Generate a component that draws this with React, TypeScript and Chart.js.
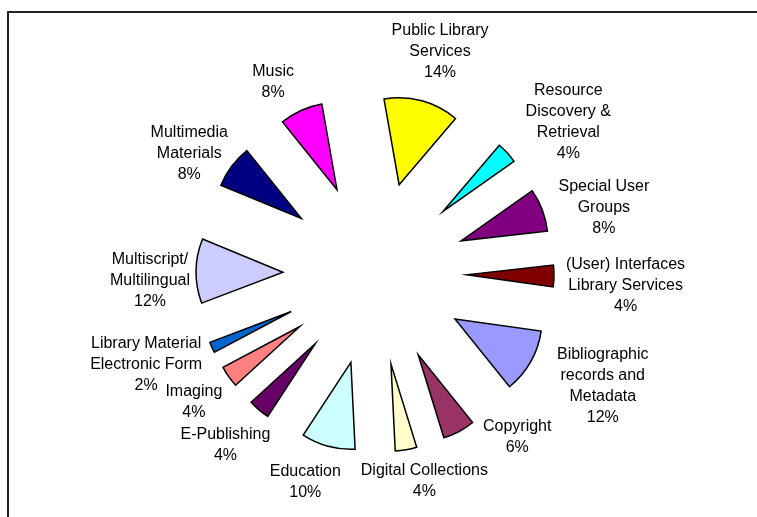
import React, { useEffect, useRef } from "react";
import { Chart, registerables } from "chart.js";

Chart.register(...registerables);

// ---- data ----
const categories: string[][] = [
  ["Public Library", "Services"],
  ["Resource", "Discovery &", "Retrieval"],
  ["Special User", "Groups"],
  ["(User) Interfaces", "Library Services"],
  ["Bibliographic", "records and", "Metadata"],
  ["Copyright"],
  ["Digital Collections"],
  ["Education"],
  ["E-Publishing"],
  ["Imaging"],
  ["Library Material", "Electronic Form"],
  ["Multiscript/", "Multilingual"],
  ["Multimedia", "Materials"],
  ["Music"],
];
const values: number[] = [14, 4, 8, 4, 12, 6, 4, 10, 4, 4, 2, 12, 8, 8];
const sliceColors: string[] = [
  "#FFFF00",
  "#00FFFF",
  "#800080",
  "#800000",
  "#9999FF",
  "#993366",
  "#FFFFCC",
  "#CCFFFF",
  "#660066",
  "#FF8080",
  "#0066CC",
  "#CCCCFF",
  "#000080",
  "#FF00FF",
];

// ---- layout / style ----
const EXPLODE = 92;
const RADIUS = 87;
const LABEL_DIST = 192;
const LINE_H = 21;
const FONT = '16px "Liberation Sans", Arial, Helvetica, sans-serif';
const labelNudges: number[][] = [
  [2, -6], [20, 6], [7, 13], [-1, 9], [21, -3], [36, -24], [5, -2],
  [-10, 3], [4, 9], [-1, 6], [-3, -1], [7, 10], [-1, 14], [-14, 3],
];

const explodePlugin = {
  id: "explodePie",
  beforeDraw(chart: any) {
    const ctx = chart.ctx;
    ctx.save();
    ctx.fillStyle = "#ffffff";
    ctx.fillRect(0, 0, chart.width, chart.height);
    ctx.strokeStyle = "#222222";
    ctx.lineWidth = 2;
    ctx.strokeRect(8, 12, chart.width + 20, chart.height + 20);
    ctx.restore();
  },
  beforeDatasetDraw(chart: any, args: any) {
    const ctx = chart.ctx;
    args.meta.data.forEach((arc: any) => {
      const p = arc.getProps(["startAngle", "endAngle"], true);
      const mid = (p.startAngle + p.endAngle) / 2;
      ctx.save();
      ctx.translate(Math.cos(mid) * EXPLODE, Math.sin(mid) * EXPLODE);
      arc.draw(ctx);
      ctx.restore();
    });
    return false;
  },
  afterDatasetsDraw(chart: any) {
    const ctx = chart.ctx;
    const meta = chart.getDatasetMeta(0);
    const total = values.reduce((a, b) => a + b, 0);
    ctx.save();
    ctx.font = FONT;
    ctx.fillStyle = "#000000";
    ctx.textAlign = "center";
    ctx.textBaseline = "middle";
    meta.data.forEach((arc: any, i: number) => {
      const p = arc.getProps(["x", "y", "startAngle", "endAngle"], true);
      const mid = (p.startAngle + p.endAngle) / 2;
      const ux = Math.cos(mid);
      const uy = Math.sin(mid);
      const lines = [...categories[i], Math.round((values[i] / total) * 100) + "%"];
      const w = Math.max(...lines.map((l) => ctx.measureText(l).width));
      const h = lines.length * LINE_H;
      const cx = p.x + (LABEL_DIST + w / 2) * ux + labelNudges[i][0];
      const cy = p.y + (LABEL_DIST + h / 2) * uy + labelNudges[i][1];
      lines.forEach((l, k) => {
        ctx.fillText(l, cx, cy + (k - (lines.length - 1) / 2) * LINE_H);
      });
    });
    ctx.restore();
  },
};

export default function App() {
  const ref = useRef<HTMLCanvasElement | null>(null);
  useEffect(() => {
    if (!ref.current) return;
    const chart = new Chart(ref.current, {
      type: "pie",
      data: {
        labels: categories.map((c) => c.join(" ")),
        datasets: [
          {
            data: values,
            backgroundColor: sliceColors,
            borderColor: "#000000",
            borderWidth: 1.5,
            borderJoinStyle: "miter",
          } as any,
        ],
      },
      options: {
        responsive: false,
        animation: false,
        events: [],
        rotation: -10,
        radius: RADIUS,
        layout: { padding: { left: 0, right: 7, top: 30, bottom: 0 } },
        plugins: { legend: { display: false }, tooltip: { enabled: false } },
      } as any,
      plugins: [explodePlugin],
    });
    return () => chart.destroy();
  }, []);
  return (
    <div style={{ position: "absolute", left: 0, top: 0, width: 757, height: 517, background: "#fff" }}>
      <canvas ref={ref} width={757} height={517} style={{ display: "block" }} />
    </div>
  );
}
